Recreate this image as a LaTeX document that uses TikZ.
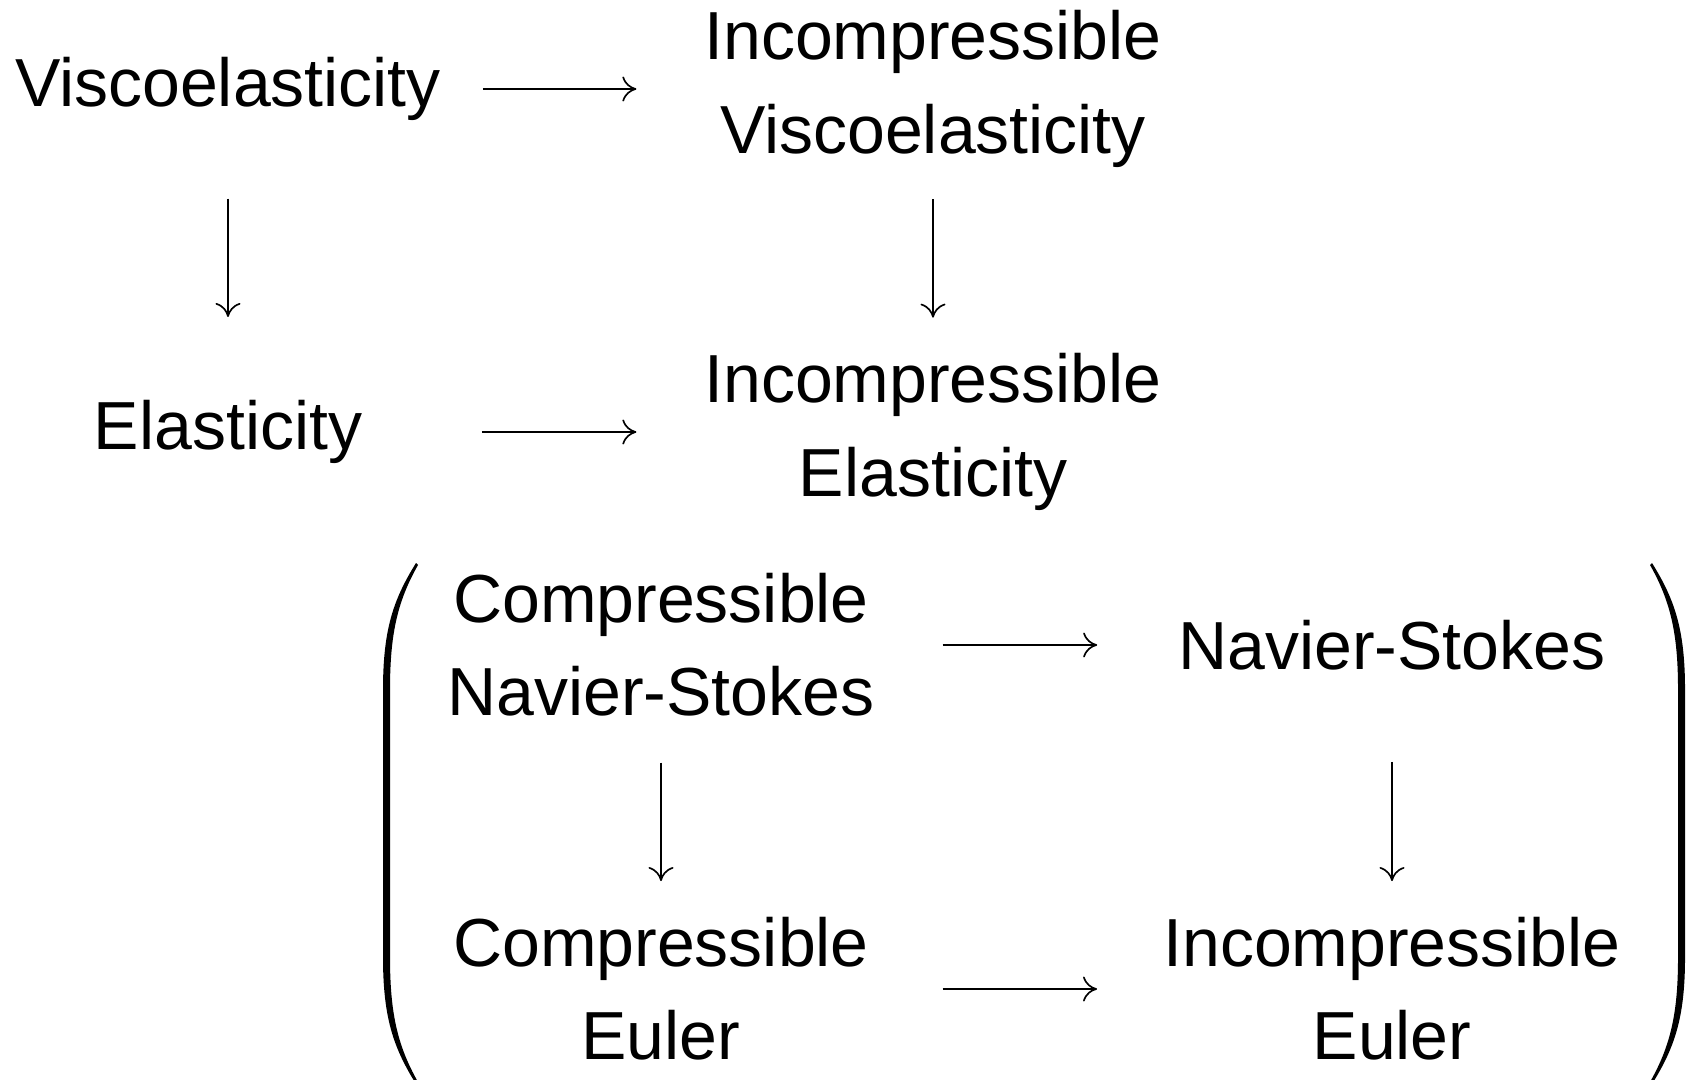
\documentclass[tikz,border=0pt]{standalone}
\usepackage{fontspec}
\setmainfont{Liberation Sans}
\usetikzlibrary{arrows.meta}
\tikzset{
model/.style={align=center, inner sep=0pt, font=\fontsize{20.4}{28}\selectfont}, % text of each model
arr/.style={->, line width=0.5pt}, % the long arrows
>={To[length=4.2pt,width=7.5pt]},
}

\begin{document}
\begin{tikzpicture}[x=0.3pt, y=-0.3pt]
        \useasboundingbox (0,0) rectangle (1687,1080);
        \node[model] (vis) at (228,89) {Viscoelasticity};
        \node[model] (ivis) at (933,89) {Incompressible\\Viscoelasticity};
        \node[model] (ela) at (228,432) {Elasticity};
        \node[model] (iela) at (933,432) {Incompressible\\Elasticity};
        \node[model] (cns) at (661,645) {Compressible\\Navier-Stokes};
        \node[model] (ns) at (1392,645) {Navier-Stokes};
        \node[model] (ceu) at (661,989) {Compressible\\Euler};
        \node[model] (ieu) at (1392,989) {Incompressible\\Euler};
        %top square
        \draw[arr, shorten <=12.4pt, shorten >=20.2pt] (vis) -- (ivis);
        \draw[arr, shorten <=35.7pt, shorten >=20.2pt] (ela) -- (iela);
        \draw[arr, shorten <=23.2pt, shorten >=24.8pt] (vis) -- (ela);
        \draw[arr, shorten <=9.4pt, shorten >=10.6pt] (ivis) -- (iela);
        %fluid square
        \draw[arr, shorten <=20.2pt, shorten >=24.2pt] (cns) -- (ns);
        \draw[arr, shorten <=21.9pt, shorten >=19.7pt] (ceu) -- (ieu);
        \draw[arr, shorten <=13.6pt, shorten >=10.7pt] (cns) -- (ceu);
        \draw[arr, shorten <=27.4pt, shorten >=10.7pt] (ns) -- (ieu);
        %parentheses
        \fill (416,563) .. controls (393,600) and (383,630) .. (383,690) -- (383,957) .. controls (383,1017) and (393,1047) .. (416,1084)
          -- (418,1082) .. controls (397,1045) and (390,1012) .. (390,957) -- (390,690) .. controls (390,635) and (397,602) .. (418,565) -- cycle;
        \begin{scope}[shift={(2068,0)}, xscale=-1]
        \fill (416,563) .. controls (393,600) and (383,630) .. (383,690) -- (383,957) .. controls (383,1017) and (393,1047) .. (416,1084)
          -- (418,1082) .. controls (397,1045) and (390,1012) .. (390,957) -- (390,690) .. controls (390,635) and (397,602) .. (418,565) -- cycle;
        \end{scope}
\end{tikzpicture}
\end{document}
